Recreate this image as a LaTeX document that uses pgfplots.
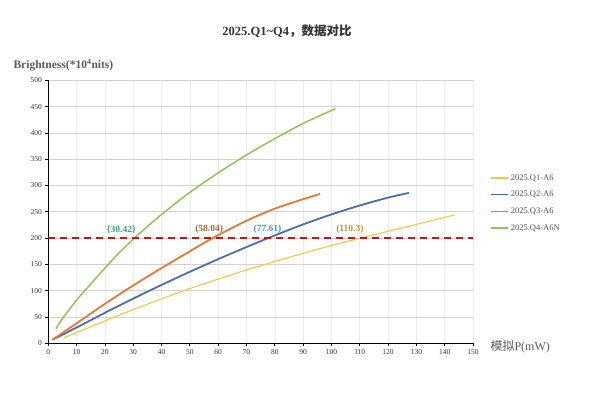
\documentclass[border=0pt]{standalone}
\usepackage{pgfplots}
\pgfplotsset{compat=1.18}
\usepackage{fontspec}
\setmainfont{Liberation Serif}
\newfontfamily\cjk{Noto Sans CJK SC}

\definecolor{qone}{HTML}{F2C744}
\definecolor{qtwo}{HTML}{4A6EAD}
\definecolor{qthree}{HTML}{E27A35}
\definecolor{qfour}{HTML}{8DC456}
\definecolor{refred}{HTML}{C0161C}
\definecolor{lbl}{HTML}{595959}
\definecolor{lblgreen}{HTML}{3A9E7A}
\definecolor{lblbrown}{HTML}{A0683E}
\definecolor{lblblue}{HTML}{3A9AC0}
\definecolor{lblolive}{HTML}{B89A3A}

\begin{document}
\begin{tikzpicture}
\path[use as bounding box] (0,0) rectangle (600pt,400pt);

\begin{axis}[
  at={(48.3pt,56.7pt)}, anchor=south west,
  scale only axis, width=424.7pt, height=263pt,
  xmin=0, xmax=150, ymin=0, ymax=500,
  xtick distance=10, ytick distance=50,
  axis lines=left,
  axis line style={-, black, line width=1.3pt},
  tick align=outside, major tick length=3pt,
  tick style={black, line width=0.8pt},
  xmajorgrids, ymajorgrids,
  x grid style={black!8, line width=0.6pt},
  y grid style={black!18, line width=0.8pt},
  /pgf/number format/assume math mode=true,
  ticklabel style={font=\fontsize{7.5}{9}\selectfont, text=black!80},
  xlabel={{\cjk 模拟}P(mW)},
  xlabel style={at={(axis description cs:1,0)}, anchor=west,
    xshift=14pt, yshift=-3pt, font=\fontsize{12}{14}\selectfont, text=lbl},
  legend style={at={(rel axis cs:1.033,0.658)}, anchor=north west,
    draw=none, fill=none, font=\fontsize{8.5}{10}\selectfont,
    text=black!70, row sep=5.5pt},
  legend cell align=left,
  legend image code/.code={\draw[#1, line width=1.6pt] (0pt,0pt) -- (17pt,0pt);},
]

\addplot[qone, line width=1.1pt, smooth] coordinates {
  (5.5,10.5) (10,20.5) (20,42.5) (30,64) (40,84.5) (50,104) (60,122)
  (70,139.5) (80,155.5) (90,171) (100,186) (110.3,200) (120,213) (130,226) (143.5,244)
};
\addlegendentry{2025.Q1-A6}

\addplot[qtwo, line width=1.8pt, smooth] coordinates {
  (1.5,7) (10,30) (20,58) (30,85) (40,111) (50,136) (60,160) (70,183)
  (77.61,200) (90,226) (100,245) (110,262) (120,277) (127.4,286)
};
\addlegendentry{2025.Q2-A6}

\addplot[qthree, line width=1.8pt, smooth] coordinates {
  (1.5,7) (10,38) (20,75) (30,110) (40,143) (50,175) (58.04,200)
  (70,233) (80,256) (90,274) (96,284)
};
\addlegendentry{2025.Q3-A6}

\addplot[qfour, line width=1.5pt, smooth] coordinates {
  (2.7,28) (5,47) (10,82) (15,113) (20,143) (25,172) (30.42,200) (35,222)
  (40,245) (50,287) (60,324) (70,358) (80,389) (90,418) (101.4,446)
};
\addlegendentry{2025.Q4-A6N}

\addplot[refred, line width=1.3pt, dash pattern=on 7pt off 5pt, forget plot]
  coordinates {(0,200) (150,200)};

\node[text=lblgreen, font=\bfseries\fontsize{9.5}{11}\selectfont] at (axis cs:25.8,216) {\{30.42\}};
\node[text=lblbrown, font=\bfseries\fontsize{9.5}{11}\selectfont] at (axis cs:56.8,216) {(58.04)};
\node[text=lblblue, font=\bfseries\fontsize{9.5}{11}\selectfont] at (axis cs:77.4,216) {(77.61)};
\node[text=lblolive, font=\bfseries\fontsize{9.5}{11}\selectfont] at (axis cs:106.5,216) {(110.3)};
\end{axis}

\node[font=\bfseries\fontsize{12.5}{14}\selectfont, text=black!80] at (287pt,369pt)
  {2025.Q1\textasciitilde Q4{\cjk ，数据对比}};
\node[anchor=west, font=\bfseries\fontsize{11.5}{13}\selectfont, text=lbl] at (10pt,335pt)
  {Brightness(*10\textsuperscript{4}nits)};
\end{tikzpicture}
\end{document}
